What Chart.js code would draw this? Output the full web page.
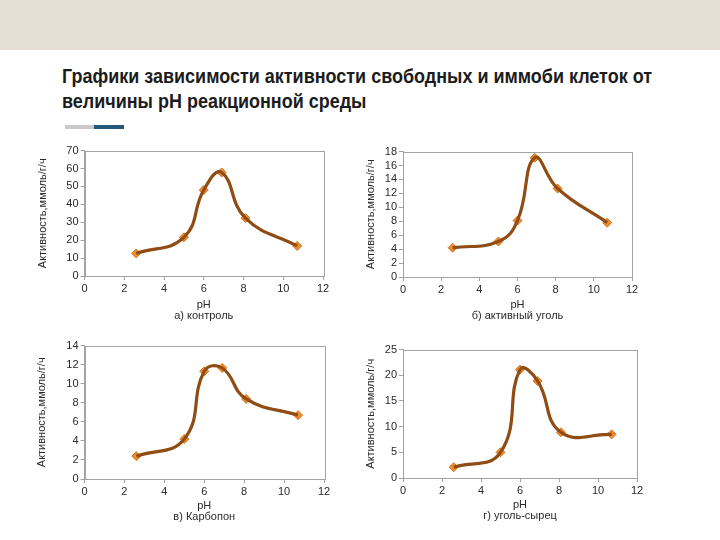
<!DOCTYPE html>
<html lang="ru">
<head>
<meta charset="utf-8">
<title>Активность клеток от pH</title>
<script src="https://cdn.jsdelivr.net/npm/chart.js@4.4.1/dist/chart.umd.min.js"></script>
<style>
  html, body {
    margin: 0;
    padding: 0;
    width: 720px;
    height: 540px;
    background: #ffffff;
    overflow: hidden;
    position: relative;
    font-family: "Liberation Sans", Arial, sans-serif;
  }
  .band {
    position: absolute;
    left: 0; top: 0;
    width: 720px; height: 50px;
    background: #e5dfd4;
  }
  #title {
    position: absolute;
    left: 62px;
    top: 64px;
    margin: 0;
    font-family: "Liberation Sans Narrow", "Arial Narrow", "Liberation Sans", sans-serif;
    font-weight: bold;
    font-size: 20px;
    line-height: 25px;
    color: #1c1c1c;
    white-space: nowrap;
    transform-origin: left top;
  }
  #title span { display: inline-block; }
  .bar-grey, .bar-blue {
    position: absolute;
    top: 125px;
    height: 4px;
  }
  .bar-grey { left: 65px; width: 29px; background: #c9c9c9; }
  .bar-blue { left: 94px; width: 30px; background: #245a79; }
  canvas { position: absolute; }
</style>
</head>
<body>
<div class="band"></div>
<h1 id="title"><span id="line1">Графики зависимости активности свободных и иммоби клеток от</span><br><span>величины pH реакционной среды</span></h1>
<div class="bar-grey"></div>
<div class="bar-blue"></div>

<canvas id="chartA"></canvas>
<canvas id="chartB"></canvas>
<canvas id="chartC"></canvas>
<canvas id="chartD"></canvas>

<script>
// Data
const phValues = [2.6, 5, 6, 6.9, 8.1, 10.7];
const activityControl = [12.6, 21.6, 48, 57.8, 32.3, 16.8];
const activityCarbon = [4.2, 5.1, 8.1, 17.1, 12.7, 7.8];
const activityCarbopon = [2.4, 4.2, 11.3, 11.65, 8.4, 6.7];
const activityRawCoal = [2.1, 5, 21.1, 18.9, 8.9, 8.5];

const phTicks = [0, 2, 4, 6, 8, 10, 12];
const xTitle = "pH";
const yTitle = "Активность,ммоль/г/ч";
const captions = ["а) контроль", "б) активный уголь", "в) Карбопон", "г) уголь-сырец"];

// fit title width to the reference
const titleEl = document.getElementById("title");
const w1 = document.getElementById("line1").getBoundingClientRect().width;
titleEl.style.transform = "scaleX(" + (590 / w1) + ")";

const axisGrey = "#a3a3a3";
const textColor = "#2a2a2a";
const tickFont = { family: "'Liberation Sans', Arial, sans-serif", size: 11 };
const labelFont = { family: "'Liberation Sans', Arial, sans-serif", size: 11, lineHeight: "11px" };

// frame round the plot area (top and right sides too)
const plotFrame = {
  id: "plotFrame",
  beforeDatasetsDraw(chart) {
    const { ctx, chartArea } = chart;
    ctx.save();
    ctx.strokeStyle = axisGrey;
    ctx.lineWidth = 1;
    ctx.strokeRect(Math.round(chartArea.left) + 0.5, Math.round(chartArea.top) + 0.5,
      Math.round(chartArea.right - chartArea.left), Math.round(chartArea.bottom - chartArea.top));
    ctx.restore();
  }
};

function toPoints(values) {
  return phValues.map((x, i) => ({ x: x, y: values[i] }));
}

function makeChart(id, values, caption, yMax, yStep, box) {
  const canvas = document.getElementById(id);
  const left = box.titleX - 5.5;
  const top = box.top - 8;
  const right = box.right + 10;
  canvas.width = Math.round(right - left);
  canvas.height = Math.round(box.axisBottom - top);
  canvas.style.left = left + "px";
  canvas.style.top = top + "px";

  const pts = toPoints(values);

  new Chart(canvas.getContext("2d"), {
    type: "line",
    data: {
      datasets: [
        {
          // dark edge under the orange line
          data: pts,
          borderColor: "#8f4c14",
          borderWidth: 3.2,
          pointRadius: 0,
          tension: 0.45,
          fill: false
        },
        {
          data: pts,
          borderColor: "#ef8f30",
          borderWidth: 2,
          tension: 0.45,
          fill: false,
          pointStyle: "rectRot",
          pointRadius: 4.5,
          pointBackgroundColor: "#f08d2c",
          pointBorderColor: "#d4721f",
          pointBorderWidth: 1
        }
      ]
    },
    options: {
      responsive: false,
      animation: false,
      layout: { padding: { top: 8, right: 10, bottom: 0, left: 0 } },
      plugins: {
        legend: { display: false },
        tooltip: { enabled: false }
      },
      scales: {
        x: {
          type: "linear",
          min: 0,
          max: 12,
          afterBuildTicks: (s) => { s.ticks = phTicks.map(v => ({ value: v })); },
          afterFit: (s) => { s.height = box.axisBottom - box.bottom; },
          ticks: { color: textColor, font: tickFont, padding: 2, maxRotation: 0, autoSkip: false },
          grid: { drawOnChartArea: false, drawTicks: true, tickLength: 4, color: axisGrey },
          border: { color: axisGrey },
          title: {
            display: true,
            text: [xTitle, caption],
            color: textColor,
            font: labelFont,
            padding: { top: 0, bottom: 0 }
          }
        },
        y: {
          min: 0,
          max: yMax,
          afterFit: (s) => { s.width = box.left - left; },
          ticks: { stepSize: yStep, color: textColor, font: tickFont, padding: 2, autoSkip: false },
          grid: { drawOnChartArea: false, drawTicks: true, tickLength: 4, color: axisGrey },
          border: { color: axisGrey },
          title: {
            display: true,
            text: yTitle,
            color: textColor,
            font: labelFont,
            padding: { top: 0, bottom: 0 }
          }
        }
      }
    },
    plugins: [plotFrame]
  });
}

makeChart("chartA", activityControl, captions[0], 70, 10,
  { titleX: 42, left: 84, right: 322, top: 150, bottom: 276, axisBottom: 321 });
makeChart("chartB", activityCarbon, captions[1], 18, 2,
  { titleX: 370.5, left: 403, right: 632, top: 151, bottom: 277, axisBottom: 321 });
makeChart("chartC", activityCarbopon, captions[2], 14, 2,
  { titleX: 41, left: 84, right: 323, top: 345, bottom: 479, axisBottom: 522 });
makeChart("chartD", activityRawCoal, captions[3], 25, 5,
  { titleX: 370.5, left: 403, right: 637, top: 349, bottom: 478, axisBottom: 521 });
</script>
</body>
</html>
